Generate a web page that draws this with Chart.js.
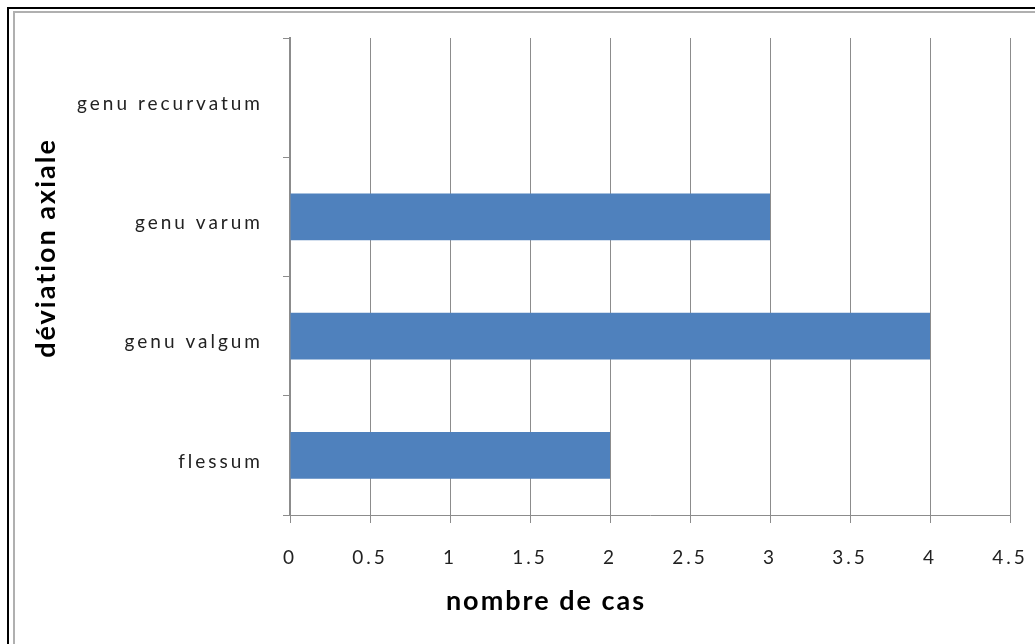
<!DOCTYPE html>
<html>
<head>
<meta charset="utf-8">
<script src="https://cdn.jsdelivr.net/npm/chart.js"></script>
<style>
  body { margin: 0; background: #fff; }
  #wrap { position: relative; width: 1035px; height: 644px; }
  .frame-outer { position: absolute; left: 7px; top: 7px; right: 0; bottom: 0; border-top: 2px solid #000; border-left: 2px solid #000; }
  .frame-inner { position: absolute; left: 13px; top: 11px; right: 0; bottom: 0; border-top: 2px solid #b0b0b0; border-left: 2px solid #b0b0b0; }
  canvas { position: absolute; left: 0; top: 0; }
</style>
</head>
<body>
<div id="wrap">
  <div class="frame-outer"></div>
  <div class="frame-inner"></div>
  <canvas id="bar_chart" width="1035" height="644"></canvas>
</div>
<script>
// categories, top to bottom as drawn
const categories = ['genu recurvatum', 'genu varum', 'genu valgum', 'flessum'];
const cases = [0, 3, 4, 2];
const xTicks = [0, 0.5, 1, 1.5, 2, 2.5, 3, 3.5, 4, 4.5];

const xTitle = 'nombre de cas';
const yTitle = 'déviation axiale';

const gridGrey = '#8c8c8c';
const labelFont = { family: 'Lato', size: 19 };

// the original's labels are loosely spaced, so widen the letters a bit
const spacingPlugin = {
  id: 'spacing',
  beforeDraw(chart) {
    chart.ctx.letterSpacing = '3px';
  }
};

// axis titles sit off-centre in the original, so draw them by hand
const titlesPlugin = {
  id: 'titles',
  afterDraw(chart) {
    const c = chart.ctx;
    c.save();
    c.letterSpacing = '2px';
    c.fillStyle = '#000';
    c.font = 'bold 27px Lato';
    c.textAlign = 'center';
    c.textBaseline = 'middle';
    c.fillText(xTitle, 546, 601);
    c.translate(46, 248);
    c.rotate(-Math.PI / 2);
    c.fillText(yTitle, 0, 0);
    c.restore();
  }
};

const ctx = document.getElementById('bar_chart').getContext('2d');

new Chart(ctx, {
  type: 'bar',
  data: {
    labels: categories,
    datasets: [
      {
        label: xTitle,
        data: cases,
        backgroundColor: '#4f81bd',
        borderWidth: 0,
        categoryPercentage: 1,
        barPercentage: 0.39,
      },
    ],
  },
  options: {
    indexAxis: 'y',
    responsive: false,
    animation: false,
    layout: { padding: { top: 38, right: 25, left: 0, bottom: 0 } },
    plugins: {
      legend: { display: false },
      tooltip: { enabled: false },
    },
    scales: {
      x: {
        min: 0,
        max: 4.5,
        afterFit: (s) => {
          s.height = 129;
          s.paddingLeft = 0;
          s.paddingRight = 0;
        },
        afterBuildTicks: (s) => { s.ticks = xTicks.map((v) => ({ value: v })); },
        grid: { color: gridGrey, lineWidth: 1, tickLength: 8 },
        border: { color: gridGrey, width: 1 },
        ticks: {
          color: '#222',
          font: labelFont,
          padding: 23,
          maxRotation: 0,
          callback: (v) => String(v),
        },
      },
      y: {
        afterFit: (s) => { s.width = 290; },
        grid: { drawOnChartArea: false, color: gridGrey, tickLength: 7, offset: true },
        border: { color: gridGrey, width: 2 },
        ticks: { color: '#222', font: labelFont, padding: 20, labelOffset: 6 },
      },
    },
  },
  plugins: [spacingPlugin, titlesPlugin],
});
</script>
</body>
</html>
